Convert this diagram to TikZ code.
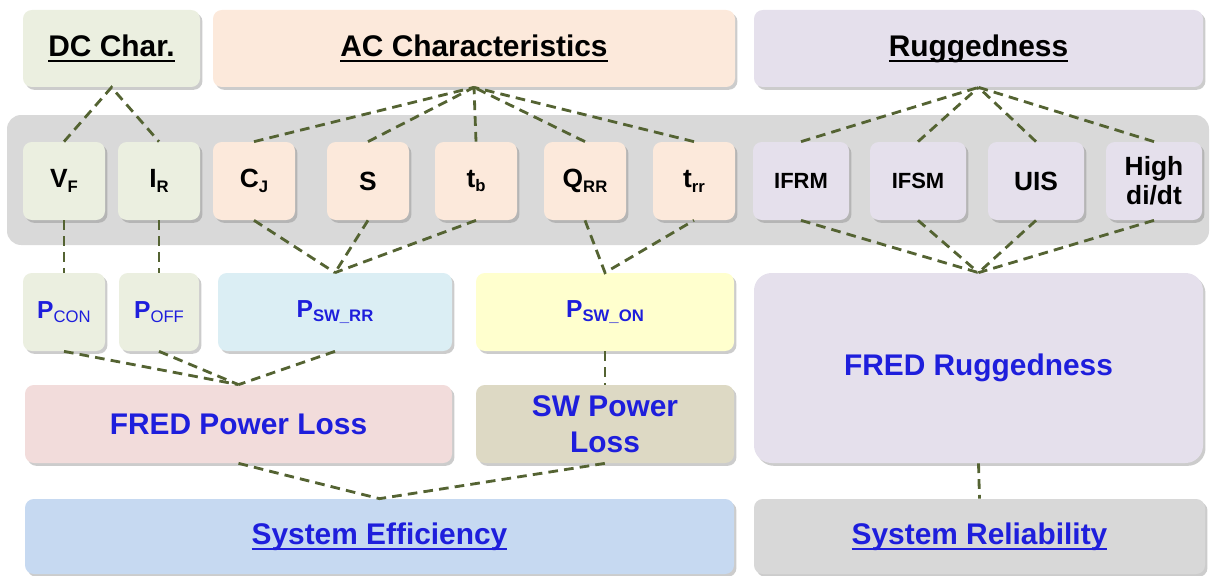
\documentclass[tikz,border=0pt]{standalone}
\usepackage{fontspec}
\setmainfont{Liberation Sans}
\usetikzlibrary{shadows}

\definecolor{dcgreen}{RGB}{235,239,224}
\definecolor{acpeach}{RGB}{252,233,219}
\definecolor{ruglilac}{RGB}{229,224,236}
\definecolor{bandgray}{RGB}{217,217,217}
\definecolor{rrblue}{RGB}{219,238,244}
\definecolor{onyellow}{RGB}{255,255,206}
\definecolor{losspink}{RGB}{242,220,219}
\definecolor{swtan}{RGB}{221,217,196}
\definecolor{effblue}{RGB}{198,217,241}
\definecolor{relgray}{RGB}{216,216,216}
\definecolor{linkgreen}{RGB}{84,99,50}
\definecolor{textblue}{RGB}{30,30,220}

\newcommand{\lowtext}[1]{\raisebox{-0.35ex}{\fontsize{9.5}{10}\selectfont #1}}
\newcommand{\underlined}[1]{\setbox0\hbox{#1}\leavevmode\rlap{\raisebox{-3.6pt}{\rule{\wd0}{1.3pt}}}\box0}

\tikzset{
  box/.style={rounded corners=5pt, inner sep=0pt, align=center,
    drop shadow={shadow xshift=1.4pt, shadow yshift=-1.6pt, opacity=0.4}},
  head/.style={box, minimum height=1.54cm, font=\fontsize{17}{20}\selectfont\bfseries},
  param/.style={box, minimum width=1.64cm, minimum height=1.56cm,
    font=\fontsize{15}{16.5}\selectfont\bfseries},
  power/.style={box, minimum height=1.56cm, text=textblue,
    font=\fontsize{14}{16}\selectfont\bfseries},
  loss/.style={box, minimum height=1.56cm, text=textblue,
    font=\fontsize{17}{20.5}\selectfont\bfseries},
  link/.style={draw=linkgreen, line width=1.6pt, dash pattern=on 5.5pt off 3.5pt}
}

\begin{document}
\begin{tikzpicture}
        \useasboundingbox (0,0) rectangle (24.22,-11.52);

        % grey band behind the parameters
        \fill[bandgray, rounded corners=8pt] (0.14,-2.30) rectangle (24.18,-4.90);

        % headers
        \node[head, fill=dcgreen, minimum width=3.54cm] (dc) at (2.23,-0.97) {\underlined{DC Char.}};
        \node[head, fill=acpeach, minimum width=10.44cm] (ac) at (9.48,-0.97) {\underlined{AC Characteristics}};
        \node[head, fill=ruglilac, minimum width=8.98cm] (rug) at (19.57,-0.97) {\underlined{Ruggedness}};

        % parameters
        \node[param, fill=dcgreen] (vf) at (1.28,-3.62) {V\lowtext{F}};
        \node[param, fill=dcgreen] (ir) at (3.18,-3.62) {I\lowtext{R}};
        \node[param, fill=acpeach] (cj) at (5.08,-3.62) {C\lowtext{J}};
        \node[param, fill=acpeach] (s) at (7.36,-3.62) {S};
        \node[param, fill=acpeach] (tb) at (9.52,-3.62) {t\lowtext{b}};
        \node[param, fill=acpeach] (qrr) at (11.70,-3.62) {Q\lowtext{RR}};
        \node[param, fill=acpeach] (trr) at (13.88,-3.62) {t\lowtext{rr}};
        \node[param, fill=ruglilac, minimum width=1.92cm, font=\fontsize{12.5}{14}\selectfont\bfseries] (ifrm) at (16.02,-3.62) {IFRM};
        \node[param, fill=ruglilac, minimum width=1.92cm, font=\fontsize{12.5}{14}\selectfont\bfseries] (ifsm) at (18.36,-3.62) {IFSM};
        \node[param, fill=ruglilac, minimum width=1.92cm] (uis) at (20.72,-3.62) {UIS};
        \node[param, fill=ruglilac, minimum width=1.92cm] (didt) at (23.08,-3.62) {High\\di/dt};

        % power terms
        \node[power, fill=dcgreen, minimum width=1.64cm] (pcon) at (1.28,-6.24) {P\lowtext{\mdseries CON}};
        \node[power, fill=dcgreen, minimum width=1.60cm] (poff) at (3.18,-6.24) {P\lowtext{\mdseries OFF}};
        \node[power, fill=rrblue, minimum width=4.68cm] (pswrr) at (6.70,-6.24) {P\lowtext{SW\_RR}};
        \node[power, fill=onyellow, minimum width=5.16cm] (pswon) at (12.10,-6.24) {P\lowtext{SW\_ON}};

        % losses and results
        \node[loss, fill=losspink, minimum width=8.54cm] (fpl) at (4.77,-8.48) {FRED Power Loss};
        \node[loss, fill=swtan, minimum width=5.16cm] (swpl) at (12.10,-8.48) {SW Power\\Loss};
        \node[loss, fill=ruglilac, minimum width=8.98cm, minimum height=3.8cm, rounded corners=10pt] (frug) at (19.57,-7.36) {FRED Ruggedness};
        \node[loss, fill=effblue, minimum width=14.18cm, minimum height=1.50cm] (eff) at (7.59,-10.73) {\underlined{System Efficiency}};
        \node[loss, fill=relgray, minimum width=9.02cm, minimum height=1.50cm] (rel) at (19.59,-10.73) {\underlined{System Reliability}};

        % links
        \draw[link] (vf.north) -- (dc.south) -- (ir.north);
        \foreach \p in {cj,s,tb,qrr,trr}
          \draw[link] (\p.north) -- (ac.south);
        \foreach \p in {ifrm,ifsm,uis,didt} {
          \draw[link] (\p.north) -- (rug.south);
          \draw[link] (\p.south) -- (frug.north);
        }
        \draw[link] (vf.south) -- (pcon.north);
        \draw[link] (ir.south) -- (poff.north);
        \foreach \p in {cj,s,tb}
          \draw[link] (\p.south) -- (pswrr.north);
        \draw[link] (qrr.south) -- (pswon.north) -- (trr.south);
        \foreach \p in {pcon,poff,pswrr}
          \draw[link] (\p.south) -- (fpl.north);
        \draw[link] (pswon.south) -- (swpl.north);
        \draw[link] (fpl.south) -- (eff.north) -- (swpl.south);
        \draw[link] (frug.south) -- (rel.north);
\end{tikzpicture}
\end{document}
